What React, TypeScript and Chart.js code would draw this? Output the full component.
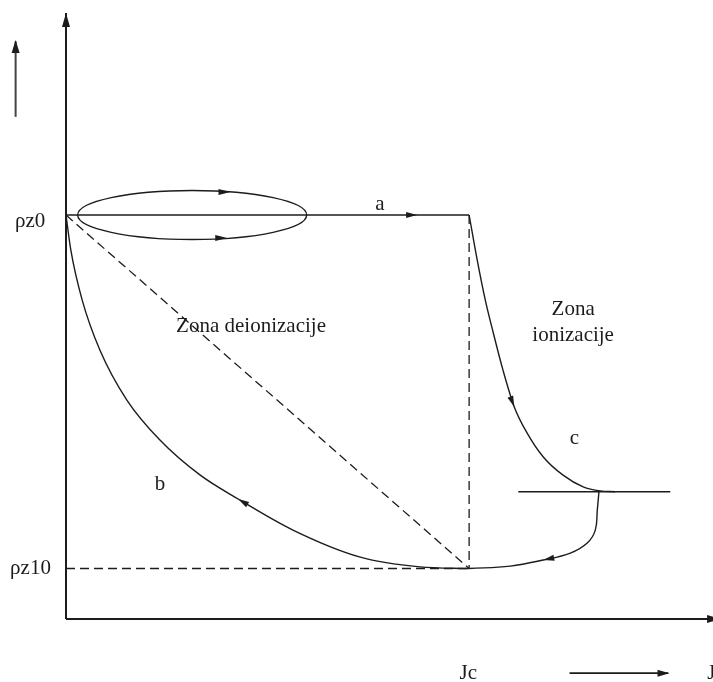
import React, { useEffect, useRef } from "react";
import { Chart, registerables } from "chart.js";

Chart.register(...registerables);

// ---- data (J relative to Jc, rho relative to rho_z0) ----
const J_C = 1.0;
const RHO_Z0 = 1.0;
const RHO_Z10 = 0.125;
const RHO_KNEE = 0.315;

const curveA = [
  { x: 0, y: RHO_Z0 },
  { x: J_C, y: RHO_Z0 },
];
const curveC = [
  { x: 1.0, y: 1.0 },
  { x: 1.02, y: 0.889 },
  { x: 1.04, y: 0.79 },
  { x: 1.06, y: 0.708 },
  { x: 1.084, y: 0.616 },
  { x: 1.112, y: 0.525 },
  { x: 1.144, y: 0.46 },
  { x: 1.184, y: 0.401 },
  { x: 1.233, y: 0.356 },
  { x: 1.283, y: 0.327 },
  { x: 1.325, y: 0.317 },
  { x: 1.362, y: 0.315 },
];
const kneeLine = [
  { x: 1.122, y: RHO_KNEE },
  { x: 1.499, y: RHO_KNEE },
];
const hookCurve = [
  { x: 1.322, y: 0.315 },
  { x: 1.318, y: 0.27 },
  { x: 1.313, y: 0.22 },
  { x: 1.293, y: 0.188 },
  { x: 1.251, y: 0.163 },
  { x: 1.184, y: 0.146 },
  { x: 1.102, y: 0.131 },
  { x: 1.0, y: 0.125 },
];
const curveB = [
  { x: 0, y: 1.0 },
  { x: 0.012, y: 0.913 },
  { x: 0.04, y: 0.79 },
  { x: 0.084, y: 0.666 },
  { x: 0.151, y: 0.542 },
  { x: 0.233, y: 0.443 },
  { x: 0.333, y: 0.356 },
  { x: 0.427, y: 0.297 },
  { x: 0.563, y: 0.22 },
  { x: 0.73, y: 0.153 },
  { x: 0.878, y: 0.129 },
  { x: 1.0, y: 0.125 },
];
const dashedVertical = [
  { x: J_C, y: RHO_Z0 },
  { x: J_C, y: RHO_Z10 },
];
const dashedDiagonal = [
  { x: 0, y: RHO_Z0 },
  { x: J_C, y: RHO_Z10 },
];
const dashedHorizontal = [
  { x: 0, y: RHO_Z10 },
  { x: J_C, y: RHO_Z10 },
];
const yAxisLine = [
  { x: 0, y: 0 },
  { x: 0, y: 1.5 },
];
const xAxisLine = [
  { x: 0, y: 0 },
  { x: 1.62, y: 0 },
];
const rhoArrowLine = [
  { x: -0.125, y: 1.243 },
  { x: -0.125, y: 1.43 },
];
const jArrowLine = [
  { x: 1.249, y: -0.134 },
  { x: 1.494, y: -0.134 },
];
// ellipse (center and semi-axes)
const ellipseCenter = { x: 0.313, y: 1.0 };
const ellipseRadii = { x: 0.284, y: 0.0606 };

// arrowheads: point, direction, size
const arrows = [
  { x: 0.871, y: 1.0, dx: 1, dy: 0, len: 11, w: 6 },
  { x: 0.408, y: 1.057, dx: 1, dy: 0, len: 12, w: 6 },
  { x: 0.4, y: 0.943, dx: 1, dy: 0, len: 12, w: 6 },
  { x: 1.112, y: 0.525, dx: 0.06, dy: -0.156, len: 11, w: 6 },
  { x: 1.184, y: 0.146, dx: -0.149, dy: -0.032, len: 11, w: 6 },
  { x: 0.427, y: 0.297, dx: -0.23, dy: 0.136, len: 11, w: 6 },
  { x: 0, y: 1.5, dx: 0, dy: 1, len: 14, w: 8 },
  { x: 1.625, y: 0, dx: 1, dy: 0, len: 14, w: 8 },
  { x: -0.125, y: 1.433, dx: 0, dy: 1, len: 13, w: 8 },
  { x: 1.497, y: -0.134, dx: 1, dy: 0, len: 12, w: 7 },
];

const labels = [
  { text: "ρz0", x: -0.089, y: 0.983, align: "center" },
  { text: "ρz10", x: -0.088, y: 0.125, align: "center" },
  { text: "a", x: 0.779, y: 1.025, align: "center" },
  { text: "Zona deionizacije", x: 0.459, y: 0.723, align: "center" },
  { text: "Zona", x: 1.258, y: 0.765, align: "center" },
  { text: "ionizacije", x: 1.258, y: 0.703, align: "center" },
  { text: "c", x: 1.261, y: 0.448, align: "center" },
  { text: "b", x: 0.233, y: 0.332, align: "center" },
  { text: "Jc", x: 0.998, y: -0.134, align: "center" },
  { text: "J", x: 1.591, y: -0.134, align: "left" },
];

const INK = "#1c1c1c";
const FONT = '21px "Liberation Serif", "Times New Roman", serif';

const decorPlugin = {
  id: "decor",
  afterDatasetsDraw(chart: any) {
    const { ctx, scales } = chart;
    const xs = scales.x;
    const ys = scales.y;
    const px = (v: number) => xs.getPixelForValue(v);
    const py = (v: number) => ys.getPixelForValue(v);
    ctx.save();
    // ellipse
    const cx = px(ellipseCenter.x);
    const cy = py(ellipseCenter.y);
    const rx = Math.abs(px(ellipseCenter.x + ellipseRadii.x) - cx);
    const ry = Math.abs(py(ellipseCenter.y + ellipseRadii.y) - cy);
    ctx.beginPath();
    ctx.ellipse(cx, cy, rx, ry, 0, 0, Math.PI * 2);
    ctx.strokeStyle = INK;
    ctx.lineWidth = 1.4;
    ctx.stroke();
    // arrowheads
    ctx.fillStyle = INK;
    for (const a of arrows) {
      const x0 = px(a.x);
      const y0 = py(a.y);
      const x1 = px(a.x + a.dx);
      const y1 = py(a.y + a.dy);
      const ang = Math.atan2(y1 - y0, x1 - x0);
      const ux = Math.cos(ang);
      const uy = Math.sin(ang);
      const bx = x0 - ux * a.len;
      const by = y0 - uy * a.len;
      ctx.beginPath();
      ctx.moveTo(x0, y0);
      ctx.lineTo(bx - uy * (a.w / 2), by + ux * (a.w / 2));
      ctx.lineTo(bx + uy * (a.w / 2), by - ux * (a.w / 2));
      ctx.closePath();
      ctx.fill();
    }
    // labels
    ctx.font = FONT;
    ctx.textBaseline = "middle";
    for (const l of labels) {
      ctx.textAlign = l.align;
      ctx.fillText(l.text, px(l.x), py(l.y));
    }
    ctx.restore();
  },
};

export default function App() {
  const ref = useRef<HTMLCanvasElement>(null);
  useEffect(() => {
    if (!ref.current) return;
    const solid = (data: any[], width = 1.4, extra: any = {}) => ({
      data,
      showLine: true,
      borderColor: INK,
      borderWidth: width,
      pointRadius: 0,
      clip: false,
      fill: false,
      ...extra,
    });
    const dashed = (data: any[]) =>
      solid(data, 1.3, { borderDash: [9, 5] });
    const chart = new Chart(ref.current, {
      type: "scatter",
      data: {
        datasets: [
          solid(yAxisLine, 2),
          solid(xAxisLine, 2),
          solid(curveA),
          dashed(dashedVertical),
          dashed(dashedDiagonal),
          dashed(dashedHorizontal),
          solid(curveC, 1.4, { cubicInterpolationMode: "monotone" }),
          solid(kneeLine),
          solid(hookCurve, 1.4, { tension: 0.4 }),
          solid(curveB, 1.4, { cubicInterpolationMode: "monotone" }),
          solid(rhoArrowLine, 2, { borderColor: "#444" }),
          solid(jArrowLine, 1.6),
        ],
      },
      options: {
        responsive: false,
        animation: false,
        events: [],
        layout: { padding: { left: 66, right: 2, top: 13, bottom: 63 } },
        plugins: {
          legend: { display: false },
          tooltip: { enabled: false },
        },
        scales: {
          x: { type: "linear", min: 0, max: 1.6, display: false },
          y: { type: "linear", min: 0, max: 1.5, display: false },
        },
      },
      plugins: [decorPlugin],
    });
    return () => chart.destroy();
  }, []);
  return (
    <div
      style={{
        position: "fixed",
        left: 0,
        top: 0,
        width: 713,
        height: 682,
        background: "#fff",
      }}
    >
      <canvas ref={ref} width={713} height={682} style={{ display: "block" }} />
    </div>
  );
}
